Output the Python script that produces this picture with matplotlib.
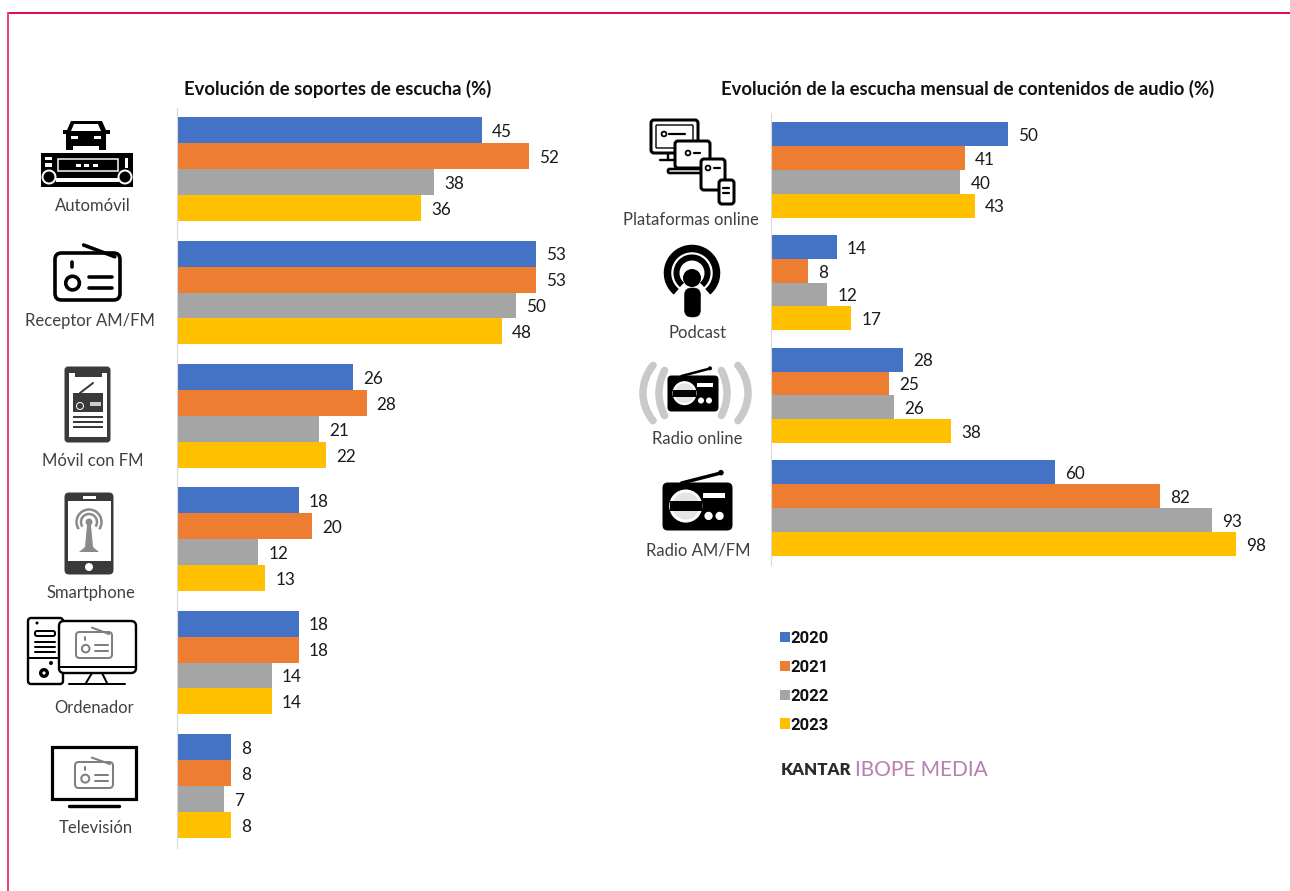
import numpy as np
import matplotlib
matplotlib.use("Agg")
import matplotlib.pyplot as plt
from matplotlib.patches import Rectangle, FancyBboxPatch, Circle, Polygon, Arc

years = ["2020", "2021", "2022", "2023"]
colors = ["#4472C4", "#ED7D31", "#A5A5A5", "#FFC000"]

left_title = "Evolución de soportes de escucha (%)"
left_cats = ["Automóvil", "Receptor AM/FM", "Móvil con FM", "Smartphone", "Ordenador", "Televisión"]
left_2020 = [45, 53, 26, 18, 18, 8]
left_2021 = [52, 53, 28, 20, 18, 8]
left_2022 = [38, 50, 21, 12, 14, 7]
left_2023 = [36, 48, 22, 13, 14, 8]

right_title = "Evolución de la escucha mensual de contenidos de audio (%)"
right_cats = ["Plataformas online", "Podcast", "Radio online", "Radio AM/FM"]
right_2020 = [50, 14, 28, 60]
right_2021 = [41, 8, 25, 82]
right_2022 = [40, 12, 26, 93]
right_2023 = [43, 17, 38, 98]

W, H = 1290, 891
FONT = "Lato"
TXT = "#404040"
fig = plt.figure(figsize=(W / 100, H / 100), dpi=100, facecolor="white")


def axes_px(x0, y0, x1, y1, **kw):
    return fig.add_axes([x0 / W, 1 - y1 / H, (x1 - x0) / W, (y1 - y0) / H], **kw)


def bars(ax, series, xmax, height):
    n = len(series[0])
    handles = []
    for i, (vals, c, yr) in enumerate(zip(series, colors, years)):
        ys = np.arange(n) + (i - 1.5) * height
        b = ax.barh(ys, vals, height=height, color=c, label=yr, linewidth=0)
        handles.append(b)
        for y, v in zip(ys, vals):
            ax.annotate(str(v), (v, y), xytext=(7.3, -1.3), textcoords="offset points",
                        va="center", ha="left", fontsize=12.3, color="#1a1a1a", family=FONT)
    ax.set_xlim(0, xmax)
    ax.set_ylim(n - 0.5, -0.5)
    ax.set_xticks([])
    ax.set_yticks([])
    for s in ("top", "right", "bottom"):
        ax.spines[s].set_visible(False)
    ax.spines["left"].set_color("#d9d9d9")
    ax.spines["left"].set_linewidth(0.8)
    ax.patch.set_alpha(0)
    return handles


axL = axes_px(177, 107.5, 177 + 6.77 * 60, 847.5)
axR = axes_px(770.5, 113.5, 770.5 + 4.745 * 105, 564.5)
hL = bars(axL, [left_2020, left_2021, left_2022, left_2023], 60, 0.2105)
bars(axR, [right_2020, right_2021, right_2022, right_2023], 105, 0.2115)

# overlay in pixel units for page furniture and pictograms
ov = fig.add_axes([0, 0, 1, 1], zorder=5)
ov.set_xlim(0, W)
ov.set_ylim(H, 0)
ov.axis("off")
ov.patch.set_alpha(0)

PX = 0.72


def rect(x0, y0, x1, y1, fc="k", ec="none", lw=0, z=2):
    ov.add_patch(Rectangle((x0, y0), x1 - x0, y1 - y0, fc=fc, ec=ec, lw=lw * PX, zorder=z))


def rrect(x0, y0, x1, y1, r=3, fc="white", ec="k", lw=2.5, z=2):
    ov.add_patch(FancyBboxPatch((x0 + r, y0 + r), x1 - x0 - 2 * r, y1 - y0 - 2 * r,
                                boxstyle=f"round,pad={r},rounding_size={r}",
                                fc=fc, ec=ec, lw=lw * PX, zorder=z))


def circ(x, y, r, fc="k", ec="none", lw=0, z=3):
    ov.add_patch(Circle((x, y), r, fc=fc, ec=ec, lw=lw * PX, zorder=z))


def line(x0, y0, x1, y1, c="k", lw=2.5, z=3, cap="round"):
    ov.plot([x0, x1], [y0, y1], color=c, lw=lw * PX, solid_capstyle=cap, zorder=z)


def arc(x, y, r, a0, a1, c="k", lw=6, z=3, cap="butt"):
    p = Arc((x, y), 2 * r, 2 * r, theta1=a0, theta2=a1, color=c, lw=lw * PX, zorder=z)
    p.set_capstyle(cap)
    ov.add_patch(p)


def radio_outline(x0, y0, x1, y1, c="k", lw=3):
    w, h = x1 - x0, y1 - y0
    rrect(x0, y0, x1, y1, r=0.1 * w, fc="none", ec=c, lw=lw, z=4)
    line(x0 + .44 * w, y0 - .17 * h, x0 + .92 * w, y0 + .08 * h, c, lw, z=4)
    line(x0 + .26 * w, y0 + .19 * h, x0 + .26 * w, y0 + .29 * h, c, lw, z=4)
    circ(x0 + .27 * w, y0 + .64 * h, .105 * w, fc="none", ec=c, lw=lw, z=4)
    line(x0 + .52 * w, y0 + .51 * h, x0 + .88 * w, y0 + .51 * h, c, lw, z=4)
    line(x0 + .52 * w, y0 + .74 * h, x0 + .88 * w, y0 + .74 * h, c, lw, z=4)


def radio_solid(x0, y0, x1, y1):
    w, h = x1 - x0, y1 - y0
    rrect(x0, y0, x1, y1, r=.07 * w, fc="k", ec="k", lw=1, z=3)
    line(x0 + .27 * w, y0, x0 + .83 * w, y0 - .21 * h, "k", .05 * w, z=3)
    circ(x0 + .84 * w, y0 - .22 * h, .04 * w, z=3)
    cx, cy, r = x0 + .33 * w, y0 + .49 * h, .24 * w
    circ(cx, cy, r, fc="white", z=4)
    circ(cx, cy, r * .82, fc="#e4e4e4", z=4)
    rect(cx - r * .98, cy - r * .3, cx + r * .98, cy + r * .3, fc="k", z=5)
    rect(x0 + .58 * w, y0 + .21 * h, x0 + .9 * w, y0 + .31 * h, fc="white", z=4)
    circ(x0 + .66 * w, y0 + .70 * h, .06 * w, fc="white", z=4)
    circ(x0 + .82 * w, y0 + .70 * h, .06 * w, fc="white", z=4)


# page border
rect(7, 12, W, 13.7, fc="#E0104F")
rect(7, 12, 9, H, fc="#E5487F")

# titles
fig.text(184 / W, 1 - 88.5 / H, left_title, fontsize=13.3, fontweight="bold", family=FONT,
         color="#111111", va="center", ha="left")
fig.text(721 / W, 1 - 88.5 / H, right_title, fontsize=13.3, fontweight="bold", family=FONT,
         color="#111111", va="center", ha="left")

# category captions
left_pos = [(93, 206), (90, 321), (93, 461), (91, 593), (94, 708), (96, 828)]
right_pos = [(691, 220), (697, 333), (697, 439), (698, 551)]
for lab, (x, y) in zip(left_cats + right_cats, left_pos + right_pos):
    ov.text(x, y, lab, fontsize=12, family=FONT, color=TXT, ha="center", va="center")

# --- Automóvil pictogram
ov.add_patch(Polygon([(71, 121), (102, 121), (106, 130), (110, 130), (110, 134), (106, 134), (106, 150),
                      (99, 150), (99, 146), (73, 146), (73, 150), (66, 150), (66, 134), (63, 134),
                      (63, 130), (67, 130)], fc="k", ec="none", zorder=2))
ov.add_patch(Polygon([(74, 124), (98, 124), (101, 131), (71, 131)], fc="white", ec="none", zorder=3))
rect(71, 136, 78, 139, fc="white", z=3)
rect(94, 136, 101, 139, fc="white", z=3)
rect(41, 153, 133, 187, fc="k")
rect(58, 159, 118, 171, fc="k", ec="white", lw=1.5, z=3)
for xd in (76, 84, 93):
    rect(xd, 164, xd + 5, 166.5, fc="white", z=4)
rect(45, 157, 52, 160, fc="white", z=3)
rect(45, 163, 52, 166.5, fc="white", z=3)
rect(125, 158, 128, 168, fc="white", z=3)
rect(56, 178, 119, 181.5, fc="white", z=3)
for xc in (49, 125):
    circ(xc, 177, 6.5, fc="k", ec="white", lw=2, z=4)

# --- Receptor AM/FM
radio_outline(55, 253, 120, 300, "k", 3.6)

# --- Móvil con FM
D = "#3a3a3a"
rrect(65, 367, 110, 442, r=3, fc=D, ec=D, lw=1)
rect(69, 373, 107, 437, fc="white", z=3)
rect(75, 373, 102, 377, fc=D, z=4)
rect(73, 393, 103, 412, fc=D, z=4)
line(80, 393, 93, 383, D, 2, z=4)
circ(80, 406, 3.5, fc=D, ec="white", lw=1, z=5)
rect(90, 402, 101, 406, fc="#cccccc", z=5)
for yl in (417, 422, 427):
    line(73, yl, 103, yl, D, 2, z=4, cap="butt")

# --- Smartphone
rrect(65, 493, 113, 574, r=4, fc=D, ec=D, lw=1)
rect(68, 501, 111, 561, fc="white", z=3)
rect(83, 496, 96, 498.5, fc="white", z=4)
circ(89, 567, 4, fc="white", z=4)
G = "#8a8a8a"
circ(89, 522, 3.5, fc=G, z=4)
arc(89, 522, 8, 145, 395, G, 2.5, z=4)
arc(89, 522, 12.5, 145, 395, G, 2.5, z=4)
ov.add_patch(Polygon([(87, 525), (91, 525), (93, 547), (99, 552), (79, 552), (85, 547)], fc=G, ec="none", zorder=4))

# --- Ordenador
rrect(28, 618, 63, 684, r=3, fc="white", ec="k", lw=2.4)
line(28, 658, 63, 658, lw=2)
circ(37, 623, 1.5)
rrect(35, 631, 55, 636, r=2, fc="white", ec="k", lw=2, z=3)
for yl in (642, 647, 652):
    line(35, yl, 55, yl, lw=2)
circ(44, 673, 5, fc="k", ec="none")
circ(44, 673, 1.6, fc="white", z=4)
circ(51, 663, 2)
rrect(59, 621, 136, 673, r=5, fc="white", ec="k", lw=2.4, z=3)
line(59, 667, 136, 667, lw=2, z=4)
line(92, 673, 86, 683, lw=2)
line(102, 673, 107, 683, lw=2)
line(69, 684, 125, 684, lw=2)
radio_outline(76, 632, 112, 658, "#7f7f7f", 2)

# --- Televisión
rect(52, 747, 136, 799, fc="white", ec="k", lw=3.2)
line(69, 806, 119, 806, lw=3.4)
radio_outline(75, 762, 113, 788, "#7f7f7f", 2)

# --- Plataformas online
rrect(651, 120, 698, 153, r=3, fc="white", ec="k", lw=3)
rrect(656, 125, 693, 148, r=1, fc="white", ec="k", lw=1.4)
circ(664, 134, 2.4, fc="white", ec="k", lw=1.8)
line(669, 134, 685, 134, lw=2.2)
line(668, 153, 668, 160, lw=2.4)
line(660, 160, 676, 160, lw=2.4)
rrect(675, 141, 710, 168, r=3, fc="white", ec="k", lw=3, z=3)
circ(688, 153, 2.4, fc="white", ec="k", lw=1.8, z=4)
line(694, 153, 700, 153, lw=2.2, z=4)
rrect(668, 169, 702, 173, r=1.5, fc="white", ec="k", lw=2.6, z=3)
rrect(701, 159, 725, 190, r=3, fc="white", ec="k", lw=3, z=4)
circ(708, 168, 2.4, fc="white", ec="k", lw=1.8, z=5)
line(714, 168, 720, 168, lw=2.2, z=5)
rrect(719, 180, 734, 204, r=3, fc="white", ec="k", lw=3, z=5)
line(723, 188, 729, 188, lw=2.2, z=6)
line(723, 193, 729, 193, lw=2.2, z=6)

# --- Podcast
arc(692, 273, 24.5, 130, 410, "k", 7.5)
arc(692, 273, 15.5, 130, 410, "k", 6)
circ(692, 278, 9)
rrect(684.5, 288, 700.5, 317, r=7, fc="k", ec="k", lw=0.5, z=3)

# --- Radio online
Gy = "#c9c9c9"
arc(686, 393, 43, 140, 220, Gy, 7.5, cap="round")
arc(705, 393, 43, -40, 40, Gy, 7.5, cap="round")
arc(707, 393, 48, 152, 208, Gy, 7.5, cap="round")
arc(679, 393, 48, -28, 28, Gy, 7.5, cap="round")
radio_solid(668, 376, 718, 411)

# --- Radio AM/FM
radio_solid(663, 483, 732, 530)

# legend
leg = fig.legend(handles=[h for h in hL], labels=years, loc="upper left",
                 bbox_to_anchor=(780 / W, 1 - 631 / H), frameon=False, borderpad=0,
                 borderaxespad=0, handlelength=0.58, handleheight=0.58, handletextpad=0.05,
                 labelspacing=0.83,
                 prop={"family": "Roboto", "weight": "bold", "size": 12})
for t in leg.get_texts():
    t.set_color("#111111")

# logo
fig.text(781 / W, 1 - 770 / H, "KANTAR", fontsize=12.2, fontweight="heavy", family=FONT,
         color="#2b2b2b", va="center", ha="left")
fig.text(855 / W, 1 - 770 / H, "IBOPE MEDIA", fontsize=15, family=FONT,
         color="#B57FAE", va="center", ha="left")

fig.savefig("out.png", dpi=100, facecolor="white")
